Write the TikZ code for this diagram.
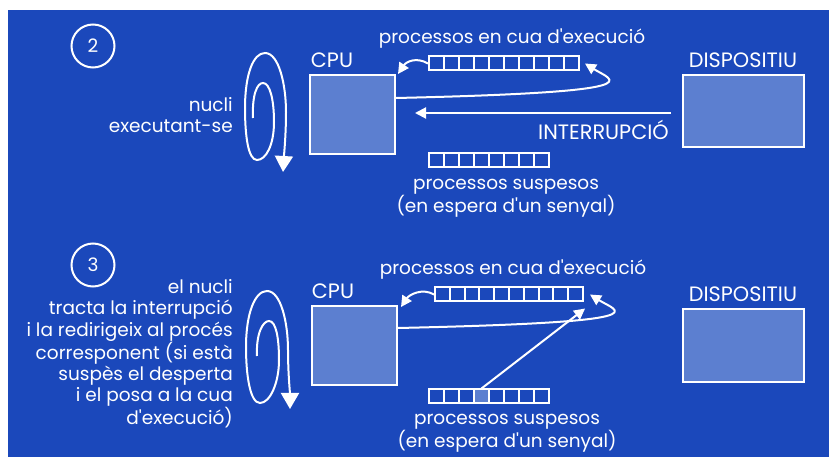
\documentclass[tikz,border=0pt]{standalone}
\usepackage{fontspec}
\setmainfont{Poppins}[Ligatures=TeXOff]
\usepackage{tikz}
\usetikzlibrary{positioning, arrows.meta, calc}
\definecolor{slidebg}{HTML}{1B48BB}
\definecolor{slidebox}{HTML}{5C7FD0}

\tikzset{
  unitbox/.style={draw=white, line width=2pt, fill=slidebox, inner sep=0pt},
  cell/.style={draw=white, line width=2pt, minimum width=15pt, minimum height=14pt, inner sep=0pt},
  stepnum/.style={circle, draw=white, line width=2pt, minimum size=43pt, inner sep=0pt},
  lbl/.style={text=white, inner sep=0pt},
  caps/.style={lbl, font=\fontsize{20.8}{24}\selectfont},
  arr/.style={draw=white, line width=2pt, -{Triangle[length=11pt,width=11pt]}},
  spin/.style={draw=white, line width=2pt, -{Triangle[length=16pt,width=18pt]}},
}

\begin{document}
\begin{tikzpicture}[x=1pt, y=-1pt, font=\fontsize{18.5}{21.2}\selectfont]
\useasboundingbox (0,0) rectangle (831,457);
\fill[white] (0,0) rectangle (831,457);
\fill[slidebg] (8,10) rectangle (829,457);

% step 2
\node[stepnum, lbl] (num2) at (93,46) {2};
\node[unitbox, minimum width=85pt, minimum height=79pt] (cpu2) at (352.5,114.5) {};
\node[caps] (cpulbl2) at (332,60) {CPU};
\node[lbl] (rqlbl2) at (512,39) {processos en cua d'execució};
\node[caps] (devlbl2) at (743,60) {DISPOSITIU};
\node[unitbox, minimum width=121pt, minimum height=72pt] (dev2) at (743.5,111) {};
\node[caps, anchor=east] (intlbl) at (669,129.5) {INTERRUPCIÓ};
\node[lbl, align=center] (sqlbl2) at (506,198.5) {processos suspesos\\(en espera d'un senyal)};
\node[lbl, align=right, anchor=east] (kern2) at (233,115) {nucli\\executant-se};
\foreach \i in {0,...,9} \node[cell] (rq2-\i) at (436.5+15*\i,63.5) {};
\foreach \i in {0,...,7} \node[cell] (sq2-\i) at (436.5+15*\i,160) {};

\draw[arr] (rq2-0.west) .. controls +(-12,-7) and +(8,-12) .. ([shift={(2,0)}]cpu2.north east);
\draw[arr] ([shift={(0,-16.5)}]cpu2.east) .. controls +(265,-6) and +(27,17) .. ([shift={(5,0)}]rq2-9.east);
\draw[arr] ([shift={(-11,2)}]dev2.west) -- ([shift={(19,-1.5)}]cpu2.east);
\draw[spin] (253,118) .. controls (252,95) and (257,83) .. (263,83)
  .. controls (270,83) and (274,100) .. (274,122)
  .. controls (274,145) and (266,160) .. (257,160)
  .. controls (248,160) and (245,135) .. (245,108)
  .. controls (245,75) and (253,53) .. (265,53)
  .. controls (279,53) and (286,85) .. (286,112)
  .. controls (286,135) and (284,155) .. (283,172);

% step 3
\node[stepnum, lbl] (num3) at (93,265) {3};
\node[unitbox, minimum width=85pt, minimum height=79pt] (cpu3) at (354.5,345.5) {};
\node[caps] (cpulbl3) at (333,291) {CPU};
\node[lbl] (rqlbl3) at (513,270) {processos en cua d'execució};
\node[caps] (devlbl3) at (743,294.5) {DISPOSITIU};
\node[unitbox, minimum width=121pt, minimum height=73pt] (dev3) at (743.5,345.5) {};
\node[lbl, align=center] (sqlbl3) at (507,433) {processos suspesos\\(en espera d'un senyal)};
\node[lbl, align=right, anchor=east] (kern3) at (233,354) {el nucli\\tracta la interrupció\\i la redirigeix al procés\\corresponent (si està\\suspès el desperta\\i el posa a la cua\\d'execució)};
\foreach \i in {0,...,9} \node[cell, minimum width=14.8pt] (rq3-\i) at (442.4+14.8*\i,294.5) {};
\foreach \i in {0,...,7} \node[cell] (sq3-\i) at (436.5+15*\i,396.5) {};
\node[cell, fill=slidebox] (woken) at (sq3-3) {};

\draw[arr] (rq3-0.west) .. controls +(-12,-7) and +(8,-12) .. ([shift={(3,2)}]cpu3.north east);
\draw[arr] ([shift={(0,-17.5)}]cpu3.east) .. controls +(270,-6) and +(27,17) .. ([shift={(6,0)}]rq3-9.east);
\draw[arr] (woken.north) -- ([shift={(9.5,6)}]rq3-9.south);
\draw[spin] (257,356) .. controls (256,333) and (263,321) .. (269,321)
  .. controls (276,321) and (279,338) .. (279,360)
  .. controls (279,383) and (270,403) .. (260,403)
  .. controls (250,403) and (246,375) .. (246,347)
  .. controls (246,313) and (255,291) .. (267,291)
  .. controls (281,291) and (288,323) .. (288,350)
  .. controls (288,373) and (290,393) .. (290,409);
\end{tikzpicture}
\end{document}
